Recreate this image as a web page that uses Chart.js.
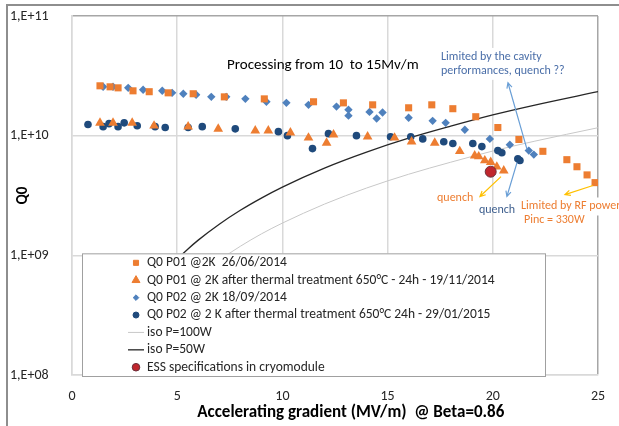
<!DOCTYPE html>
<html>
<head>
<meta charset="utf-8">
<script src="https://cdn.jsdelivr.net/npm/chart.js@4.4.1/dist/chart.umd.min.js"></script>
<style>
  html, body { margin: 0; padding: 0; background: #fff; overflow: hidden; }
  #wrap { position: relative; width: 619px; height: 426px; }
  #frame { position: absolute; left: 6px; top: 4px; width: 640px; height: 440px; border: 2px solid #8e8e8e; pointer-events: none; }
</style>
</head>
<body>
<div id="wrap"><canvas id="q0-chart"></canvas><div id="frame"></div></div>
<script>
// Q0 P01 @2K 26/06/2014
var p01Gradient = [1.33, 1.81, 2.19, 2.9, 3.67, 4.57, 5.76, 7.24, 9.14, 11.48, 12.9, 14.29, 16.0, 17.1, 18.1, 19.19, 20.24, 21.24, 22.38, 23.52, 24.0, 24.48, 24.86];
var p01Q0 = [2.61e10, 2.56e10, 2.51e10, 2.37e10, 2.33e10, 2.28e10, 2.24e10, 2.11e10, 2.03e10, 1.92e10, 1.88e10, 1.81e10, 1.71e10, 1.81e10, 1.68e10, 1.44e10, 1.17e10, 9.3e9, 7.4e9, 6.3e9, 5.5e9, 4.7e9, 4.05e9];

// Q0 P01 after thermal treatment
var p01ttGradient = [1.33, 1.95, 2.86, 3.9, 5.52, 6.95, 8.71, 9.33, 10.38, 11.24, 12.1, 12.43, 14.05, 15.33, 16.14, 17.24, 18.43, 19.14, 19.33, 19.62, 19.9, 20.19, 20.52];
var p01ttQ0 = [1.28e10, 1.28e10, 1.28e10, 1.21e10, 1.19e10, 1.14e10, 1.10e10, 1.10e10, 1.06e10, 9.6e9, 8.7e9, 1.02e10, 9.8e9, 9.6e9, 8.9e9, 8.7e9, 7.4e9, 6.8e9, 6.7e9, 6.2e9, 6.0e9, 5.5e9, 5.1e9];

// Q0 P02 @2K 18/09/2014
var p02Gradient = [1.48, 1.95, 2.67, 3.38, 4.29, 4.76, 5.29, 5.9, 6.62, 7.33, 8.24, 9.24, 10.19, 11.24, 12.57, 13.14, 13.14, 14.14, 14.48, 14.76, 16.0, 17.14, 17.76, 18.67, 19.86, 20.81, 21.71, 21.95];
var p02Q0 = [2.56e10, 2.56e10, 2.51e10, 2.42e10, 2.37e10, 2.28e10, 2.24e10, 2.2e10, 2.11e10, 2.11e10, 2.03e10, 1.92e10, 1.88e10, 1.81e10, 1.75e10, 1.65e10, 1.47e10, 1.58e10, 1.39e10, 1.56e10, 1.41e10, 1.33e10, 1.28e10, 1.12e10, 9.4e9, 8.4e9, 7.5e9, 6.95e9];

// Q0 P02 after thermal treatment
var p02ttGradient = [0.76, 1.48, 1.76, 2.19, 2.48, 3.1, 3.95, 4.43, 5.52, 6.19, 7.76, 9.81, 10.24, 11.43, 12.19, 13.52, 15.14, 16.1, 16.67, 17.67, 18.1, 19.05, 19.48, 20.24, 20.43, 21.19, 21.29];
var p02ttQ0 = [1.24e10, 1.19e10, 1.26e10, 1.19e10, 1.28e10, 1.21e10, 1.19e10, 1.17e10, 1.17e10, 1.19e10, 1.14e10, 1.08e10, 1.0e10, 7.8e9, 1.04e10, 1.0e10, 9.8e9, 9.8e9, 9.4e9, 8.9e9, 8.6e9, 8.6e9, 8.1e9, 7.5e9, 7.2e9, 6.4e9, 6.2e9];

// iso power curves
var iso100Gradient = [6, 7, 8, 9, 10, 12, 14, 16, 18, 20, 22, 25];
var iso100Q0 = [6.7e8, 9.1e8, 1.19e9, 1.51e9, 1.86e9, 2.68e9, 3.65e9, 4.76e9, 6.0e9, 7.44e9, 9.0e9, 1.165e10];
var iso50Gradient = [4, 4.5, 5, 5.5, 6, 7, 8, 9, 10, 12, 14, 16, 18, 20, 22, 25];
var iso50Q0 = [5.95e8, 7.53e8, 9.3e8, 1.125e9, 1.34e9, 1.82e9, 2.38e9, 3.01e9, 3.72e9, 5.36e9, 7.29e9, 9.52e9, 1.2e10, 1.49e10, 1.8e10, 2.33e10];

// ESS specification
var essGradient = [19.9];
var essQ0 = [5.0e9];

var xTicks = [0, 5, 10, 15, 20, 25];
var yTicks = [1e8, 1e9, 1e10, 1e11];
var yTickLabels = ["1,E+08", "1,E+09", "1,E+10", "1,E+11"];
var xTitle = "Accelerating gradient (MV/m)  @ Beta=0.86";

var FONT = "Carlito, Lato, sans-serif";

function toPoints(xs, ys) {
  return xs.map(function (x, i) { return { x: x, y: ys[i] }; });
}

// text and arrows placed on the plot, in data units
var notes = [
  { text: "Processing from 10  to 15Mv/m", x: 7.37, y: 3.9e10, color: "#000000", size: 15 },
  { text: "Limited by the cavity", x: 17.54, y: 4.55e10, color: "#4a6ea8", size: 12, bg: true },
  { text: "performances, quench ??", x: 17.54, y: 3.48e10, color: "#4a6ea8", size: 12, bg: true },
  { text: "quench", x: 17.35, y: 3.04e9, color: "#ed7d31", size: 12 },
  { text: "quench", x: 19.34, y: 2.37e9, color: "#3e5f8e", size: 12 },
  { text: "Limited by RF power", x: 21.34, y: 2.56e9, color: "#ed7d31", size: 12, bg: true },
  { text: "Pinc = 330W", x: 21.48, y: 1.96e9, color: "#ed7d31", size: 12, bg: true }
];
var arrows = [
  { from: [21.63, 7.64e9], to: [20.72, 2.77e10], color: "#6a9fd6" },
  { from: [21.15, 5.96e9], to: [20.67, 3.1e9], color: "#6a9fd6" },
  { from: [20.39, 4.55e9], to: [19.39, 3.1e9], color: "#ffc000" },
  { from: [24.76, 3.83e9], to: [23.43, 3.22e9], color: "#ffc000" }
];

var legendBox = {
  id: "legendBox",
  afterDatasetsDraw: function (chart) {
    var ctx = chart.ctx;
    var left = chart.scales.x.getPixelForValue(0) + 10;
    var right = left + 463;
    var top = chart.scales.y.getPixelForValue(1e9) - 2;
    var bottom = chart.chartArea.bottom + 1;
    ctx.save();
    ctx.fillStyle = "#ffffff";
    ctx.fillRect(left, top, right - left, bottom - top);
    ctx.strokeStyle = "#a0a0a0";
    ctx.lineWidth = 1;
    ctx.strokeRect(left + 0.5, top + 0.5, right - left, bottom - top);
    ctx.font = "13.5px " + FONT;
    ctx.textBaseline = "middle";
    chart.data.datasets.forEach(function (ds, i) {
      var y = top + 9.5 + i * 17.4;
      ctx.fillStyle = ds.backgroundColor;
      ctx.strokeStyle = ds.borderColor;
      if (ds.showLine) {
        ctx.lineWidth = ds.borderWidth;
        ctx.beginPath();
        ctx.moveTo(left + 46, y);
        ctx.lineTo(left + 62, y);
        ctx.stroke();
      } else {
        ctx.lineWidth = 1;
        Chart.helpers.drawPoint(ctx, { pointStyle: ds.pointStyle, radius: ds.legendRadius, rotation: 0, borderWidth: 1 }, left + 54, y);
      }
      ctx.fillStyle = "#262626";
      ctx.fillText(ds.label, left + 65, y);
    });
    ctx.restore();
  },
  afterDraw: function (chart) {
    var ctx = chart.ctx;
    var xs = chart.scales.x, ys = chart.scales.y;
    ctx.save();
    arrows.forEach(function (a) {
      var x1 = xs.getPixelForValue(a.from[0]), y1 = ys.getPixelForValue(a.from[1]);
      var x2 = xs.getPixelForValue(a.to[0]), y2 = ys.getPixelForValue(a.to[1]);
      var ang = Math.atan2(y2 - y1, x2 - x1);
      ctx.strokeStyle = a.color;
      ctx.lineWidth = 1.2;
      ctx.beginPath();
      ctx.moveTo(x1, y1);
      ctx.lineTo(x2, y2);
      ctx.moveTo(x2 - 6 * Math.cos(ang - 0.45), y2 - 6 * Math.sin(ang - 0.45));
      ctx.lineTo(x2, y2);
      ctx.lineTo(x2 - 6 * Math.cos(ang + 0.45), y2 - 6 * Math.sin(ang + 0.45));
      ctx.stroke();
    });
    ctx.textBaseline = "middle";
    notes.forEach(function (n) {
      var x = xs.getPixelForValue(n.x), y = ys.getPixelForValue(n.y);
      ctx.font = n.size + "px " + FONT;
      if (n.bg) {
        var w = ctx.measureText(n.text).width;
        ctx.fillStyle = "#ffffff";
        ctx.fillRect(x - 3, y - 9, w + 6, 18);
      }
      ctx.fillStyle = n.color;
      ctx.fillText(n.text, x, y);
    });
    // x axis title, sitting a little right of the axis centre as in the original
    ctx.font = "bold 17px " + FONT;
    ctx.textAlign = "center";
    ctx.fillStyle = "#000000";
    ctx.fillText(xTitle, xs.getPixelForValue(13.25), chart.chartArea.bottom + 38);
    ctx.restore();
  }
};

document.addEventListener("DOMContentLoaded", function () {
  var ctx = document.getElementById("q0-chart").getContext("2d");
  Chart.defaults.font.family = FONT;

  new Chart(ctx, {
    type: "scatter",
    data: {
      datasets: [
        { label: "Q0 P01 @2K  26/06/2014", data: toPoints(p01Gradient, p01Q0), pointStyle: "rect", pointRadius: 5, legendRadius: 3.6, backgroundColor: "#ed7d31", borderColor: "#ed7d31", borderWidth: 0, order: 2 },
        { label: "Q0 P01 @ 2K after thermal treatment 650°C - 24h - 19/11/2014", data: toPoints(p01ttGradient, p01ttQ0), pointStyle: "triangle", pointRadius: 5.6, legendRadius: 4.6, backgroundColor: "#ed7d31", borderColor: "#ed7d31", borderWidth: 0, order: 1 },
        { label: "Q0 P02 @ 2K 18/09/2014", data: toPoints(p02Gradient, p02Q0), pointStyle: "rectRot", pointRadius: 4.2, legendRadius: 2.8, backgroundColor: "#4f81bd", borderColor: "#4f81bd", borderWidth: 0, order: 3 },
        { label: "Q0 P02 @ 2 K after thermal treatment 650°C 24h - 29/01/2015", data: toPoints(p02ttGradient, p02ttQ0), pointStyle: "circle", pointRadius: 3.8, legendRadius: 3, backgroundColor: "#1f4a7c", borderColor: "#1f4a7c", borderWidth: 0, order: 4 },
        { label: "iso P=100W", data: toPoints(iso100Gradient, iso100Q0), showLine: true, pointRadius: 0, borderColor: "#c8c8c8", backgroundColor: "#c8c8c8", borderWidth: 1, cubicInterpolationMode: "monotone", order: 6 },
        { label: "iso P=50W", data: toPoints(iso50Gradient, iso50Q0), showLine: true, pointRadius: 0, borderColor: "#262626", backgroundColor: "#262626", borderWidth: 1.3, cubicInterpolationMode: "monotone", order: 5 },
        { label: "ESS specifications in cryomodule", data: toPoints(essGradient, essQ0), pointStyle: "circle", pointRadius: 5.5, legendRadius: 3.8, backgroundColor: "#c0262d", borderColor: "#6b2f3a", borderWidth: 1, order: 0 }
      ]
    },
    options: {
      responsive: true,
      maintainAspectRatio: false,
      animation: false,
      layout: { padding: { left: 10, top: 16, right: 21, bottom: 4 } },
      scales: {
        x: {
          type: "linear",
          min: 0,
          max: 25,
          afterBuildTicks: function (scale) {
            scale.ticks = xTicks.map(function (v) { return { value: v }; });
          },
          afterFit: function (scale) { scale.height = 47; },
          grid: {
            drawTicks: false,
            lineWidth: 1.5,
            color: function (c) { return c.tick && c.tick.value === 25 ? "#a6a6a6" : "#d9d9d9"; }
          },
          border: { display: true, color: "#d9d9d9", width: 1.5 },
          ticks: { padding: 13, color: "#262626", font: { size: 14 } },
          title: { display: false }
        },
        y: {
          type: "logarithmic",
          min: 1e8,
          max: 1e11,
          afterBuildTicks: function (scale) {
            scale.ticks = yTicks.map(function (v) { return { value: v }; });
          },
          afterFit: function (scale) { scale.width = 62; },
          grid: {
            drawTicks: false,
            lineWidth: 1.5,
            color: function (c) { return c.tick && c.tick.value === 1e11 ? "#a6a6a6" : "#d9d9d9"; }
          },
          border: { display: true, color: "#d9d9d9", width: 1.5 },
          ticks: {
            crossAlign: "far",
            color: "#262626",
            font: { size: 14 },
            callback: function (v) { return yTickLabels[yTicks.indexOf(v)]; }
          },
          title: { display: true, text: "Q0", color: "#000", font: { size: 15, weight: "bold" }, padding: { top: 4, bottom: 0 } }
        }
      },
      plugins: {
        legend: { display: false },
        tooltip: { enabled: false }
      }
    },
    plugins: [legendBox]
  });
});
</script>
</body>
</html>
